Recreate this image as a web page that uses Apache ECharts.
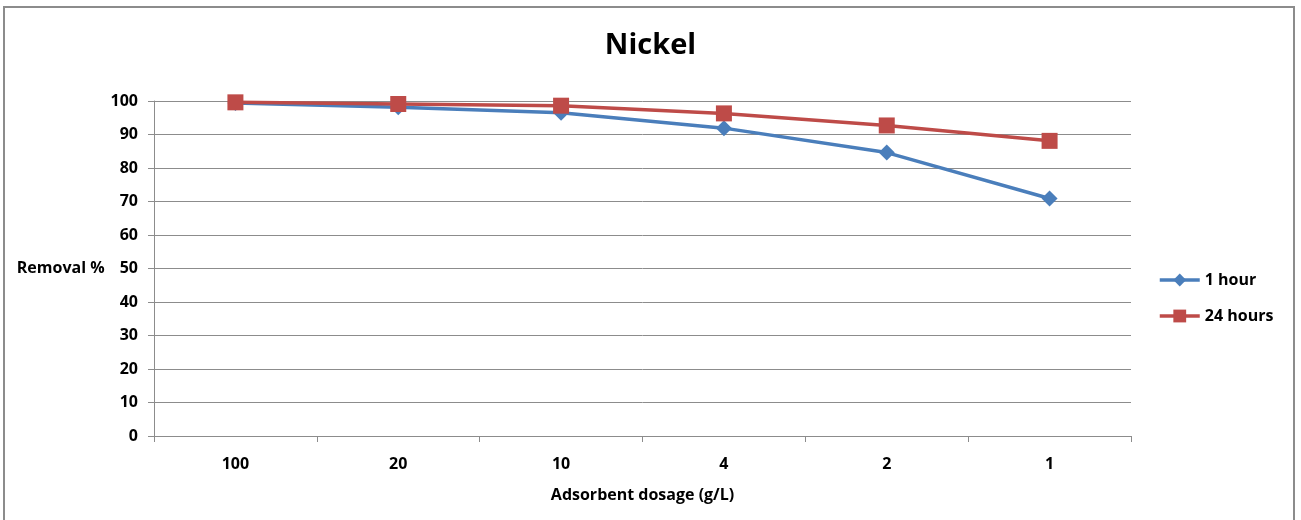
<!DOCTYPE html>
<html>
<head>
<meta charset="utf-8">
<script src="https://cdn.jsdelivr.net/npm/echarts@6/dist/echarts.min.js"></script>
<style>
html,body{margin:0;padding:0;background:#fff;}
#frame{position:absolute;left:3px;top:6px;width:1292px;height:520px;border:2px solid #8c8c8c;border-bottom:none;box-sizing:border-box;}
#chart{position:absolute;left:0;top:0;width:1301px;height:520px;}
</style>
</head>
<body>
<div id="frame"></div>
<div id="chart"></div>
<script>
// Nickel removal versus adsorbent dosage
const dosages = ['100', '20', '10', '4', '2', '1'];
const removal1h = [99.4, 98.1, 96.5, 91.9, 84.6, 70.9];
const removal24h = [99.6, 99.1, 98.6, 96.3, 92.7, 88.1];
const yTicks = [0, 10, 20, 30, 40, 50, 60, 70, 80, 90, 100];

const font = '"Liberation Sans Narrow", "Open Sans", sans-serif';
const chart = echarts.init(document.getElementById('chart'), null, {renderer: 'canvas'});
chart.setOption({
  animation: false,
  title: {
    text: 'Nickel', left: 'center', top: 26,
    textStyle: {fontFamily: font, fontWeight: 'bold', fontSize: 29, color: '#000'}
  },
  legend: {
    orient: 'vertical', left: 1153, top: 267, itemGap: 20,
    itemWidth: 40, itemHeight: 16,
    lineStyle: {width: 3.5},
    textStyle: {fontFamily: font, fontWeight: 'bold', fontSize: 16, color: '#000'},
    data: ['1 hour', '24 hours']
  },
  grid: {left: 154, right: 170, top: 101, bottom: 84},
  xAxis: {
    type: 'category', data: dosages,
    name: 'Adsorbent dosage (g/L)', nameLocation: 'middle', nameGap: 51,
    nameTextStyle: {fontFamily: font, fontWeight: 'bold', fontSize: 16, color: '#000'},
    axisLine: {lineStyle: {color: '#8c8c8c', width: 1}},
    axisTick: {show: true, length: 6, lineStyle: {color: '#8c8c8c'}},
    axisLabel: {fontFamily: font, fontWeight: 'bold', fontSize: 16, color: '#000', margin: 20}
  },
  yAxis: {
    type: 'value', min: yTicks[0], max: yTicks[yTicks.length - 1], interval: 10,
    name: 'Removal %', nameLocation: 'middle', nameRotate: 0, nameGap: 94,
    nameTextStyle: {fontFamily: font, fontWeight: 'bold', fontSize: 16, color: '#000', align: 'left'},
    axisLine: {show: true, lineStyle: {color: '#8c8c8c', width: 1}},
    axisTick: {show: true, length: 6, lineStyle: {color: '#8c8c8c'}},
    axisLabel: {fontFamily: font, fontWeight: 'bold', fontSize: 16, color: '#000', margin: 16},
    splitLine: {lineStyle: {color: '#8c8c8c', width: 1}}
  },
  series: [
    {
      name: '1 hour', type: 'line', data: removal1h,
      symbol: 'diamond', symbolSize: 16,
      lineStyle: {color: '#4a7ebb', width: 3.5},
      itemStyle: {color: '#4a7ebb'}
    },
    {
      name: '24 hours', type: 'line', data: removal24h,
      symbol: 'rect', symbolSize: 16,
      lineStyle: {color: '#be4b48', width: 3.5},
      itemStyle: {color: '#be4b48'}
    }
  ]
});
</script>
</body>
</html>
